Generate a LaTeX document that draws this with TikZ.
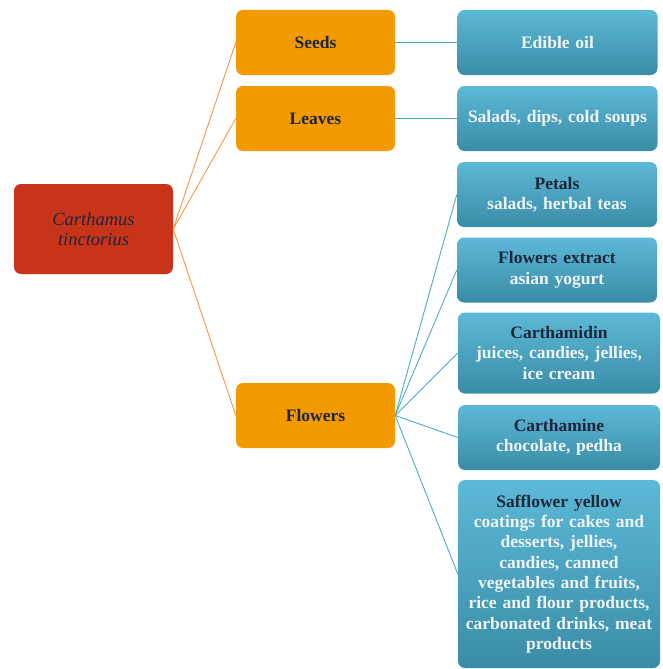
\documentclass[tikz,border=0pt]{standalone}
\usepackage{fontspec}
\setmainfont{Liberation Serif}
\definecolor{rootred}{RGB}{200,52,26}
\definecolor{orangebox}{RGB}{243,154,0}
\definecolor{orangeline}{RGB}{247,150,70}
\definecolor{bluetop}{RGB}{92,185,215}
\definecolor{bluebot}{RGB}{58,140,166}
\definecolor{blueline}{RGB}{75,172,198}
\definecolor{darktext}{RGB}{30,38,60}
\definecolor{lighttext}{RGB}{240,244,246}
\tikzset{
  box/.style={rounded corners=7pt, minimum width=#1, align=center, inner sep=2pt, font=\fontsize{17.5}{20.3}\selectfont\bfseries},
  rootbox/.style={box=159pt, fill=rootred, minimum height=90pt, text=darktext, font=\fontsize{18.5}{20.5}\selectfont\itshape},
  orbox/.style={box=159pt, fill=orangebox, minimum height=65pt, text=darktext},
  blbox/.style={box=#1, top color=bluetop, bottom color=bluebot, draw=none, text=lighttext, text width=196pt},
  orline/.style={draw=orangeline, line width=0.9pt},
  blline/.style={draw=blueline, line width=0.9pt}
}
\newcommand{\ttlx}[1]{\textcolor{darktext}{#1}}
\begin{document}
\begin{tikzpicture}[x=1pt,y=-1pt]
\useasboundingbox (0,0) rectangle (663,669);
\node[rootbox] (root) at (93.5,229) {Carthamus\\tinctorius};
\node[orbox] (seeds) at (315.5,42.5) {Seeds};
\node[orbox] (leaves) at (315.5,118.5) {Leaves};
\node[orbox] (flowers) at (315.5,415.5) {Flowers};
\node[blbox=199pt, minimum height=65pt] (oil) at (557.5,42.5) {Edible oil};
\node[blbox=199pt, minimum height=65pt] (salads) at (557.5,118.5) {Salads, dips, cold soups};
\node[blbox=198pt, minimum height=65pt] (petals) at (557,194.5) {\ttlx{Petals}\\salads, herbal teas};
\node[blbox=198pt, minimum height=65pt] (extract) at (557,270) {\ttlx{Flowers extract}\\asian yogurt};
\node[blbox=202pt, minimum height=81pt] (carthamidin) at (559,353) {\ttlx{Carthamidin}\\juices, candies, jellies,\\ice cream};
\node[blbox=202pt, minimum height=65pt] (carthamine) at (559,437.5) {\ttlx{Carthamine}\\chocolate, pedha};
\node[blbox=202pt, minimum height=188pt] (safflower) at (559,574) {\ttlx{Safflower yellow}\\coatings for cakes and\\desserts, jellies,\\candies, canned\\vegetables and fruits,\\rice and flour products,\\carbonated drinks, meat\\products};
\draw[orline] (root.east) -- (seeds.west);
\draw[orline] (root.east) -- (leaves.west);
\draw[orline] (root.east) -- (flowers.west);
\draw[blline] (seeds.east) -- (oil.west);
\draw[blline] (leaves.east) -- (salads.west);
\draw[blline] (flowers.east) -- (petals.west);
\draw[blline] (flowers.east) -- (extract.west);
\draw[blline] (flowers.east) -- (carthamidin.west);
\draw[blline] (flowers.east) -- (carthamine.west);
\draw[blline] (flowers.east) -- (safflower.west);
\end{tikzpicture}
\end{document}
